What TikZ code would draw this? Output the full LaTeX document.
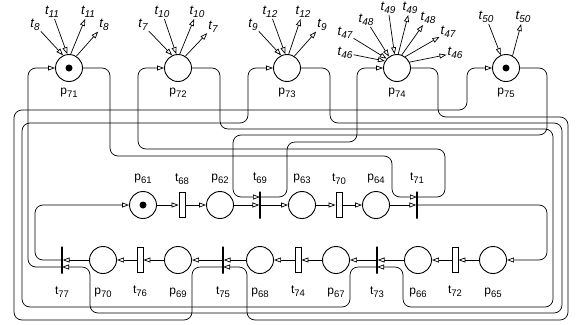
\documentclass[tikz,border=0pt]{standalone}
\usepackage{fontspec}
\setmainfont{Liberation Sans}
\usetikzlibrary{arrows.meta,positioning}

\newcommand{\sublab}[2]{#1\raisebox{-0.45ex}{\fontsize{9.5}{10}\selectfont #2}}
\newcommand{\tlab}[1]{t\raisebox{-0.45ex}{\fontsize{10}{10}\selectfont #1}}

\tikzset{
  place/.style={circle,draw,line width=0.9pt,minimum size=27pt,inner sep=0pt},
  trans/.style={rectangle,draw,line width=0.8pt,minimum width=6pt,minimum height=25pt,inner sep=0pt},
  bar/.style={rectangle,draw,line width=1.3pt,minimum width=0pt,minimum height=27pt,inner sep=0pt},
  tok/.style={circle,fill,inner sep=0pt,minimum size=7pt},
  flow/.style={line width=0.7pt,rounded corners=8pt,-{Triangle[open,length=7pt,width=5pt]}},
  tl/.style={font=\fontsize{13}{15}\selectfont\itshape,inner sep=1pt},
  every label/.style={text height=8pt,text depth=2.5pt,inner sep=2pt},
  lup/.style={label={[label distance=6pt]above:#1}},
  ldown/.style={label={[label distance=10.5pt]below:#1}},
  ltop/.style={label={[label distance=2.7pt]below:#1}},
}

\begin{document}
\begin{tikzpicture}[x=1pt,y=-1pt,on grid,font=\fontsize{12}{14}\selectfont]
\useasboundingbox (0,0) rectangle (577,324);

% resource places
\node[place,ltop=\sublab{p}{71}] (p71) at (69,68) {};
\node[place,ltop=\sublab{p}{72},right=109pt of p71] (p72) {};
\node[place,ltop=\sublab{p}{73},right=109pt of p72] (p73) {};
\node[place,ltop=\sublab{p}{74},right=110pt of p73] (p74) {};
\node[place,ltop=\sublab{p}{75},right=109pt of p74] (p75) {};
\node[tok] (k71) at (p71) {};
\node[tok] (k75) at (p75) {};

% upper row of the process
\node[place,lup=\sublab{p}{61}] (p61) at (143,205) {};
\node[tok] (k61) at (p61) {};
\node[trans,lup=\sublab{t}{68},right=39pt of p61] (t68) {};
\node[place,lup=\sublab{p}{62},right=38pt of t68] (p62) {};
\node[bar,lup=\sublab{t}{69},right=40pt of p62] (t69) {};
\node[place,lup=\sublab{p}{63},right=42pt of t69] (p63) {};
\node[trans,lup=\sublab{t}{70},right=37pt of p63] (t70) {};
\node[place,lup=\sublab{p}{64},right=37pt of t70] (p64) {};
\node[bar,lup=\sublab{t}{71},right=41pt of p64] (t71) {};

% lower row of the process
\node[bar,ldown=\sublab{t}{77}] (t77) at (62,260) {};
\node[place,ldown=\sublab{p}{70},right=41pt of t77] (p70) {};
\node[trans,ldown=\sublab{t}{76},right=37pt of p70] (t76) {};
\node[place,ldown=\sublab{p}{69},right=38pt of t76] (p69) {};
\node[bar,ldown=\sublab{t}{75},right=45pt of p69] (t75) {};
\node[place,ldown=\sublab{p}{68},right=37pt of t75] (p68) {};
\node[trans,ldown=\sublab{t}{74},right=38pt of p68] (t74) {};
\node[place,ldown=\sublab{p}{67},right=38pt of t74] (p67) {};
\node[bar,ldown=\sublab{t}{73},right=41pt of p67] (t73) {};
\node[place,ldown=\sublab{p}{66},right=41pt of t73] (p66) {};
\node[trans,ldown=\sublab{t}{72},right=37pt of p66] (t72) {};
\node[place,ldown=\sublab{p}{65},right=38pt of t72] (p65) {};

% arcs to the rest of the net
\node[tl,above left=43pt and 34pt of p71] (in8) {\tlab{8}};
\node[tl,above left=56pt and 17pt of p71] (in11) {\tlab{11}};
\node[tl,above right=56pt and 19pt of p71] (out11) {\tlab{11}};
\node[tl,above right=43pt and 35pt of p71] (out8) {\tlab{8}};
\node[tl,above left=43pt and 35pt of p72] (in7) {\tlab{7}};
\node[tl,above left=56pt and 16pt of p72] (in10) {\tlab{10}};
\node[tl,above right=56pt and 19pt of p72] (out10) {\tlab{10}};
\node[tl,above right=41pt and 35pt of p72] (out7) {\tlab{7}};
\node[tl,above left=43pt and 34pt of p73] (in9) {\tlab{9}};
\node[tl,above left=56pt and 17pt of p73] (in12) {\tlab{12}};
\node[tl,above right=56pt and 16pt of p73] (out12) {\tlab{12}};
\node[tl,above right=43pt and 35pt of p73] (out9) {\tlab{9}};
\node[tl,above left=15pt and 52pt of p74] (in46) {\tlab{46}};
\node[tl,above left=35pt and 52pt of p74] (in47) {\tlab{47}};
\node[tl,above left=48pt and 31pt of p74] (in48) {\tlab{48}};
\node[tl,above left=60pt and 9pt of p74] (in49) {\tlab{49}};
\node[tl,above right=60pt and 13pt of p74] (out49) {\tlab{49}};
\node[tl,above right=50pt and 31pt of p74] (out48) {\tlab{48}};
\node[tl,above right=36pt and 51pt of p74] (out47) {\tlab{47}};
\node[tl,above right=15pt and 58pt of p74] (out46) {\tlab{46}};
\node[tl,above left=51pt and 20pt of p75] (in50) {\tlab{50}};
\node[tl,above right=51pt and 17pt of p75] (out50) {\tlab{50}};

\draw[flow] (in8) -- (p71.115);
\draw[flow] (in11) -- (p71.97);
\draw[flow] (p71.83) -- (out11);
\draw[flow] (p71.58) -- (out8);
\draw[flow] (in7) -- (p72.115);
\draw[flow] (in10) -- (p72.97);
\draw[flow] (p72.83) -- (out10);
\draw[flow] (p72.58) -- (out7);
\draw[flow] (in9) -- (p73.115);
\draw[flow] (in12) -- (p73.97);
\draw[flow] (p73.83) -- (out12);
\draw[flow] (p73.58) -- (out9);
\draw[flow] (in46) -- (p74.150);
\draw[flow] (in47) -- (p74.138);
\draw[flow] (in48) -- (p74.125);
\draw[flow] (in49) -- (p74.100);
\draw[flow] (p74.85) -- (out49);
\draw[flow] (p74.70) -- (out48);
\draw[flow] (p74.54) -- (out47);
\draw[flow] (p74.25) -- (out46);
\draw[flow] (in50) -- (p75.112);
\draw[flow] (p75.62) -- (out50);

% process cycle
\draw[flow] (p61) -- (t68);
\draw[flow] (t68) -- (p62);
\draw[flow] (p62) -- (t69);
\draw[flow] (t69) -- (p63);
\draw[flow] (p63) -- (t70);
\draw[flow] (t70) -- (p64);
\draw[flow] (p64) -- (t71);
\draw[flow] (t71) -- (547,205) -- (547,260) -- (p65);
\draw[flow] (p65) -- (t72);
\draw[flow] (t72) -- (p66);
\draw[flow] (p66) -- (t73);
\draw[flow] (t73) -- (p67);
\draw[flow] (p67) -- (t74);
\draw[flow] (t74) -- (p68);
\draw[flow] (p68) -- (t75);
\draw[flow] (t75) -- (p69);
\draw[flow] (p69) -- (t76);
\draw[flow] (t76) -- (p70);
\draw[flow] (p70) -- (t77);
\draw[flow] (t77) -- (35,260) -- (35,205) -- (p61);

% resources released
\draw[flow] ([yshift=-7pt]t77.center) -- (28,267) -- (28,68) -- (p71);
\draw[flow] ([yshift=8pt]t71.center) -- (445,197) -- (445,149) -- (138,149) -- (138,68) -- (p72);
\draw[flow] ([yshift=-7pt]t73.center) -- (350,267) -- (350,307) -- (22,307) -- (22,123) -- (248,123) -- (248,68) -- (p73);
\draw[flow] ([yshift=8pt]t69.center) -- (287,197) -- (287,142) -- (357,142) -- (357,68) -- (p74);
\draw[flow] ([yshift=-7pt]t75.center) -- (192,267) -- (192,320) -- (14,320) -- (14,110) -- (467,110) -- (467,68) -- (p75);

% resources taken
\draw[flow] (p71) -- (110,68) -- (110,156) -- (392,156) -- (392,197) -- ([yshift=8pt]t71.center);
\draw[flow] (p72) -- (220,68) -- (220,129) -- (553,129) -- (553,307) -- (403,307) -- (403,267) -- ([yshift=-7pt]t73.center);
\draw[flow] (p73) -- (330,68) -- (330,123) -- (562,123) -- (562,313) -- (90,313) -- (90,267) -- ([yshift=-7pt]t77.center);
\draw[flow] (p74) -- (438,68) -- (438,117) -- (568,117) -- (568,320) -- (247,320) -- (247,267) -- ([yshift=-7pt]t75.center);
\draw[flow] (p75) -- (547,68) -- (547,135) -- (233,135) -- (233,197) -- ([yshift=8pt]t69.center);
\end{tikzpicture}
\end{document}
